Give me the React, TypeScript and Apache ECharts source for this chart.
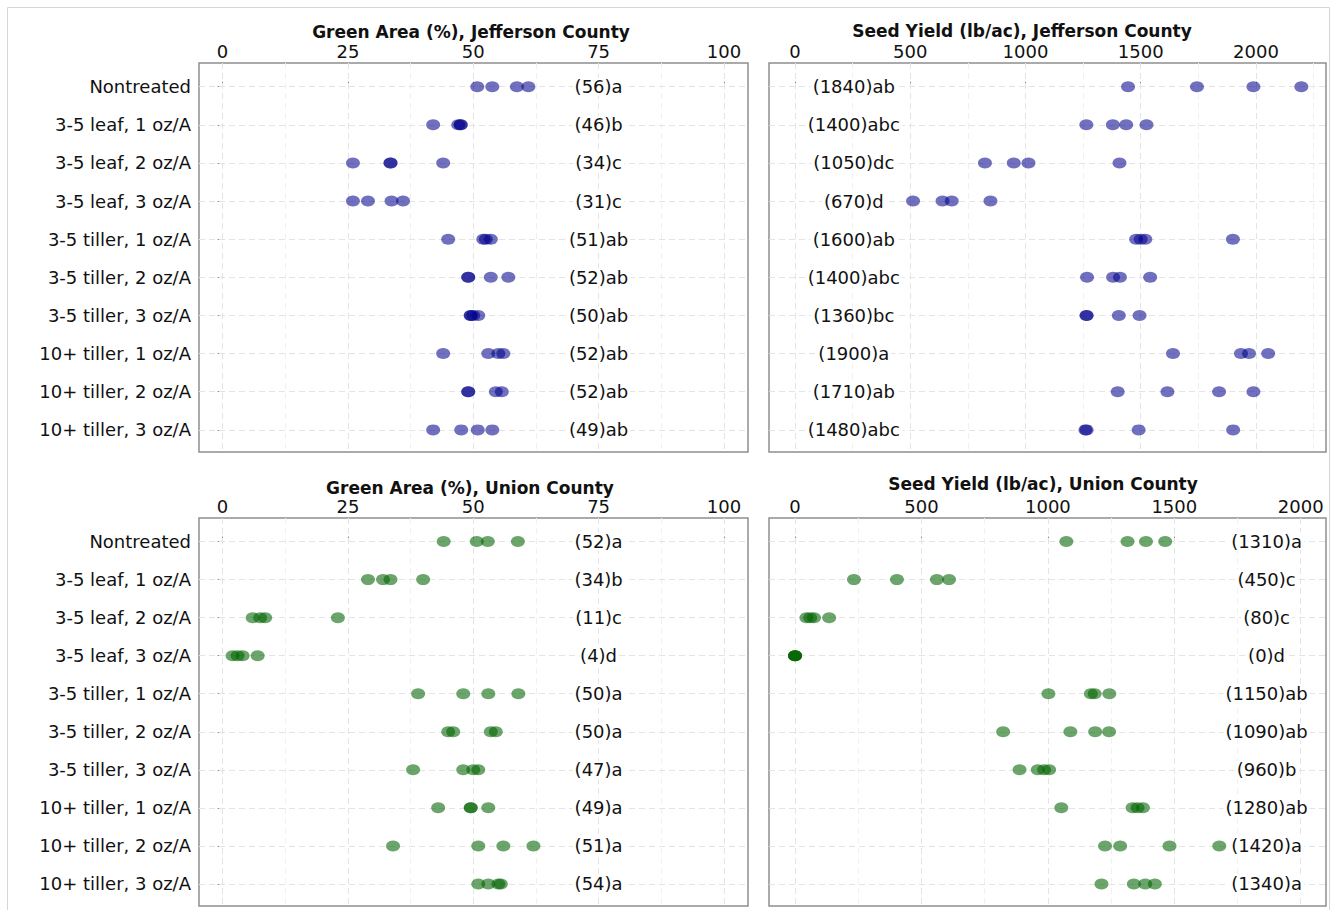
import React, { useEffect, useRef } from "react";
import * as echarts from "echarts";

const treatments = [
  "Nontreated",
  "3-5 leaf, 1 oz/A",
  "3-5 leaf, 2 oz/A",
  "3-5 leaf, 3 oz/A",
  "3-5 tiller, 1 oz/A",
  "3-5 tiller, 2 oz/A",
  "3-5 tiller, 3 oz/A",
  "10+ tiller, 1 oz/A",
  "10+ tiller, 2 oz/A",
  "10+ tiller, 3 oz/A",
];

const greenJefferson = [
  [50.8, 53.8, 58.7, 61.0],
  [42, 47, 47.5, 47.5],
  [26, 33.5, 33.5, 44],
  [26, 29, 33.7, 36],
  [45, 52, 52.5, 53.5],
  [49, 49, 53.5, 57],
  [49.5, 49.5, 50, 51],
  [44, 53, 55, 56],
  [49, 49, 54.5, 55.7],
  [42, 47.6, 50.9, 53.8],
];
const greenJeffersonLabels = ["(56)a", "(46)b", "(34)c", "(31)c", "(51)ab", "(52)ab", "(50)ab", "(52)ab", "(52)ab", "(49)ab"];

const yieldJefferson = [
  [1445, 1744, 1989, 2197],
  [1264, 1379, 1437, 1525],
  [824, 949, 1013, 1408],
  [512, 640, 680, 848],
  [1480, 1500, 1520, 1900],
  [1267, 1380, 1410, 1541],
  [1265, 1265, 1405, 1495],
  [1640, 1935, 1970, 2053],
  [1400, 1616, 1840, 1989],
  [1260, 1265, 1491, 1901],
];
const yieldJeffersonLabels = ["(1840)ab", "(1400)abc", "(1050)dc", "(670)d", "(1600)ab", "(1400)abc", "(1360)bc", "(1900)a", "(1710)ab", "(1480)abc"];

const greenUnion = [
  [44.1, 50.7, 52.9, 58.9],
  [29, 32, 33.5, 40],
  [6, 7.5, 8.5, 23],
  [2, 3, 4, 7],
  [39, 48, 53, 59],
  [45, 46, 53.5, 54.5],
  [38, 48, 50, 51],
  [43, 49.5, 49.5, 53],
  [34, 51, 56, 62],
  [51, 53, 55, 55.5],
];
const greenUnionLabels = ["(52)a", "(34)b", "(11)c", "(4)d", "(50)a", "(50)a", "(47)a", "(49)a", "(51)a", "(54)a"];

const yieldUnion = [
  [1073, 1315, 1388, 1464],
  [233, 403, 561, 609],
  [45, 60, 75, 135],
  [0, 0, 0, 0],
  [1002, 1170, 1185, 1243],
  [823, 1089, 1187, 1242],
  [888, 960, 985, 1005],
  [1053, 1335, 1355, 1376],
  [1226, 1286, 1481, 1678],
  [1212, 1340, 1385, 1423],
];
const yieldUnionLabels = ["(1310)a", "(450)c", "(80)c", "(0)d", "(1150)ab", "(1090)ab", "(960)b", "(1280)ab", "(1420)a", "(1340)a"];

const pctTicks = [0, 25, 50, 75, 100];
const pctMinor = [12.5, 37.5, 62.5, 87.5];
const yieldTicks = [0, 500, 1000, 1500, 2000];
const yieldMinorJ = [250, 750, 1250, 1750, 2250];
const yieldMinorU = [250, 750, 1250, 1750];

const FONT = "DejaVu Sans";
const TEXT = "#111111";
const BORDER = "#8f8f8f";
const BLUE = "rgba(0,0,139,0.56)";
const GREEN = "rgba(0,100,0,0.58)";

type Panel = {
  title: string;
  titleX: number;
  titleY: number;
  box: { left: number; top: number; width: number; height: number };
  min: number;
  max: number;
  ticks: number[];
  minor: number[];
  showY: boolean;
  values: number[][];
  labels: string[];
  labelX: number;
  color: string;
};

const panels: Panel[] = [
  {
    title: "Green Area (%), Jefferson County",
    titleX: 471, titleY: 32,
    box: { left: 199, top: 63, width: 549, height: 389 },
    min: -4.7, max: 104.8, ticks: pctTicks, minor: pctMinor, showY: true,
    values: greenJefferson, labels: greenJeffersonLabels, labelX: 75, color: BLUE,
  },
  {
    title: "Seed Yield (lb/ac), Jefferson County",
    titleX: 1022, titleY: 31,
    box: { left: 769, top: 63, width: 557, height: 389 },
    min: -113, max: 2304, ticks: yieldTicks, minor: yieldMinorJ, showY: false,
    values: yieldJefferson, labels: yieldJeffersonLabels, labelX: 255, color: BLUE,
  },
  {
    title: "Green Area (%), Union County",
    titleX: 470, titleY: 488,
    box: { left: 199, top: 518, width: 549, height: 388 },
    min: -4.7, max: 104.8, ticks: pctTicks, minor: pctMinor, showY: true,
    values: greenUnion, labels: greenUnionLabels, labelX: 75, color: GREEN,
  },
  {
    title: "Seed Yield (lb/ac), Union County",
    titleX: 1043, titleY: 484,
    box: { left: 769, top: 518, width: 557, height: 388 },
    min: -103, max: 2100, ticks: yieldTicks, minor: yieldMinorU, showY: false,
    values: yieldUnion, labels: yieldUnionLabels, labelX: 1865, color: GREEN,
  },
];

const rowIdx = treatments.map((_, i) => i);

function buildOption() {
  const grid: any[] = [];
  const xAxis: any[] = [];
  const yAxis: any[] = [];
  const series: any[] = [];
  const graphic: any[] = [
    {
      type: "rect",
      shape: { x: 7.5, y: 7.5, width: 1322, height: 930 },
      style: { fill: "none", stroke: "#d6d6d6", lineWidth: 1 },
      silent: true,
      z: -10,
    },
  ];

  panels.forEach((p, idx) => {
    grid.push({
      ...p.box,
      show: true,
      borderColor: BORDER,
      borderWidth: 1.5,
      backgroundColor: "#ffffff",
    });
    xAxis.push({
      gridIndex: idx,
      type: "value",
      position: "top",
      min: p.min,
      max: p.max,
      axisLine: { show: false },
      axisTick: { show: true, customValues: p.ticks, length: 5, lineStyle: { color: BORDER, width: 1 } },
      axisLabel: {
        customValues: p.ticks,
        formatter: (v: number) => String(v),
        fontFamily: FONT,
        fontSize: 18,
        color: TEXT,
        margin: 3,
      },
      splitLine: { show: false },
    });
    yAxis.push({
      gridIndex: idx,
      type: "value",
      inverse: true,
      min: -0.62,
      max: 9.58,
      axisLine: { show: false },
      axisTick: { show: true, customValues: rowIdx, length: 5, lineStyle: { color: BORDER, width: 1 } },
      axisLabel: {
        show: p.showY,
        customValues: rowIdx,
        formatter: (v: number) => treatments[Math.round(v)] ?? "",
        fontFamily: FONT,
        fontSize: 18,
        color: TEXT,
        margin: 8,
      },
      splitLine: { show: false },
    });

    // dashed reference lines
    series.push({
      type: "scatter",
      xAxisIndex: idx,
      yAxisIndex: idx,
      z: 1,
      silent: true,
      symbolSize: 1,
      itemStyle: { color: "rgba(0,0,0,0)", opacity: 1 },
      data: [[p.labelX, 0]],
      markLine: {
        silent: true,
        symbol: "none",
        animation: false,
        z: 1,
        label: { show: false },
        emphasis: { disabled: true },
        data: [
          ...p.ticks.map((v) => ({ xAxis: v, lineStyle: { color: "#e4e4e4", type: [6, 4], width: 1 } })),
          ...p.minor.map((v) => ({ xAxis: v, lineStyle: { color: "#f0f0f0", type: [6, 4], width: 1 } })),
          ...rowIdx.map((r) => ({ yAxis: r, lineStyle: { color: "#e4e4e4", type: [6, 4], width: 1 } })),
        ],
      },
    });

    // letter labels
    series.push({
      type: "scatter",
      xAxisIndex: idx,
      yAxisIndex: idx,
      z: 8,
      silent: true,
      symbolSize: 1,
      itemStyle: { color: "rgba(0,0,0,0)", opacity: 1 },
      data: p.labels.map((_, i) => [p.labelX, i]),
      label: {
        show: true,
        position: "inside",
        formatter: (q: any) => p.labels[q.dataIndex],
        fontFamily: FONT,
        fontSize: 18,
        color: TEXT,
        opacity: 1,
        textBorderWidth: 0,
        backgroundColor: "#ffffff",
        padding: [0, 2],
      },
    });

    series.push({
      type: "scatter",
      xAxisIndex: idx,
      yAxisIndex: idx,
      z: 10,
      symbol: "circle",
      symbolSize: [14, 11],
      itemStyle: { color: p.color, opacity: 1 },
      emphasis: { disabled: true },
      data: p.values.flatMap((row, i) => row.map((v) => [v, i])),
    });

    graphic.push({
      type: "text",
      x: p.titleX,
      y: p.titleY,
      silent: true,
      style: {
        text: p.title,
        fontFamily: FONT,
        fontSize: 17,
        fontWeight: "bold",
        fill: TEXT,
        textAlign: "center",
        textVerticalAlign: "middle",
      },
    });
  });

  return {
    animation: false,
    backgroundColor: "#ffffff",
    grid,
    xAxis,
    yAxis,
    series,
    graphic,
  };
}

export default function App() {
  const ref = useRef<HTMLDivElement>(null);
  useEffect(() => {
    if (!ref.current) return;
    const chart = echarts.init(ref.current, undefined, { renderer: "svg" });
    chart.setOption(buildOption() as any);
    return () => chart.dispose();
  }, []);
  return (
    <div
      ref={ref}
      style={{ position: "absolute", left: 0, top: 0, width: 1334, height: 910, background: "#fff" }}
    />
  );
}
